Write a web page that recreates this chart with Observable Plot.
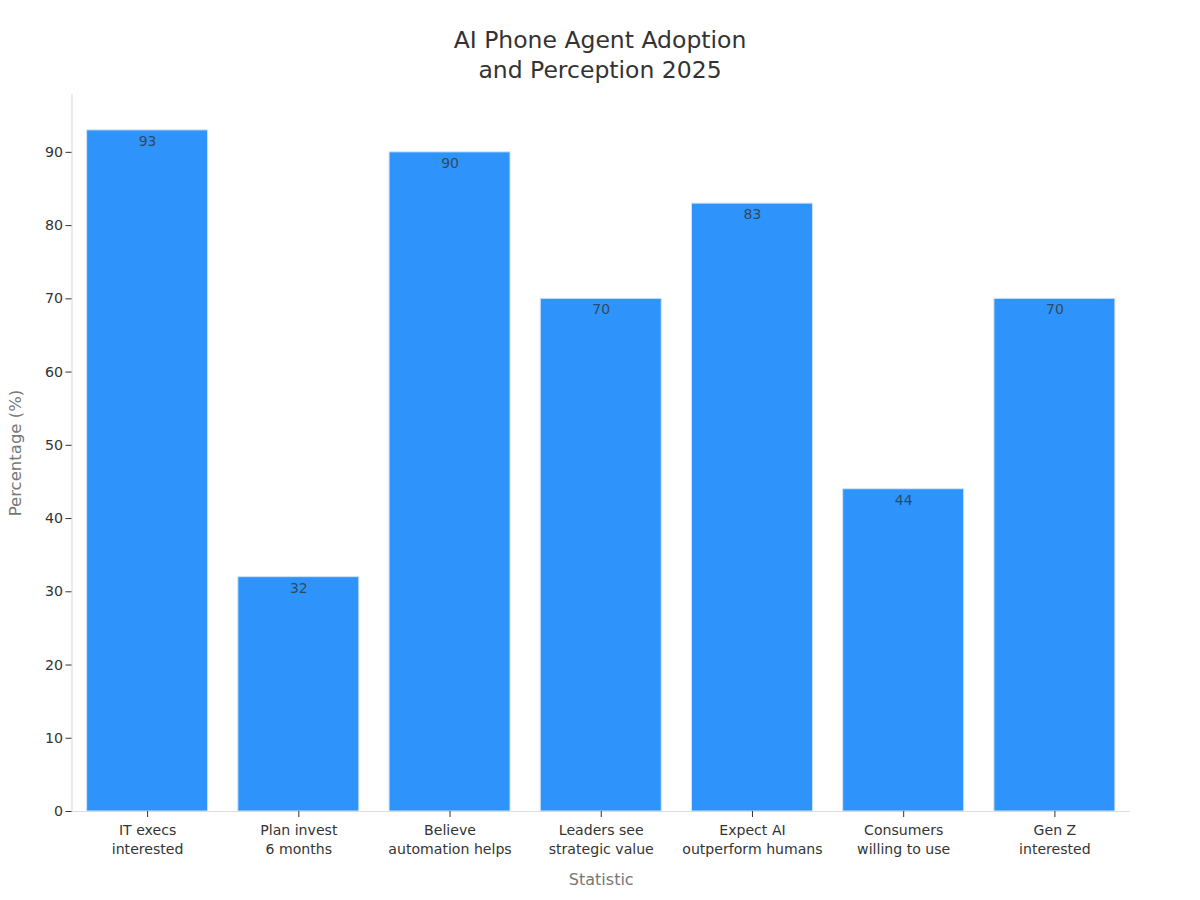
<!DOCTYPE html>
<html><head><meta charset="utf-8">
<script src="https://cdn.jsdelivr.net/npm/d3@7"></script>
<script src="https://cdn.jsdelivr.net/npm/@observablehq/plot@0.6"></script>
<style>html,body{margin:0;background:#fff}
#t{font:23.5px "DejaVu Sans";color:#333;text-align:center;line-height:30px;position:absolute;left:0;top:25px;width:1200px}
svg{position:absolute;left:0;top:0}</style></head>
<body><div id="t">AI Phone Agent Adoption<br>and Perception 2025</div><div id="c"></div>
<script>
const categories=["IT execs\ninterested","Plan invest\n6 months","Believe\nautomation helps","Leaders see\nstrategic value","Expect AI\noutperform humans","Consumers\nwilling to use","Gen Z\ninterested"];
const values=[93,32,90,70,83,44,70];
const yTicks=[0,10,20,30,40,50,60,70,80,90];
const rows=categories.map((c,i)=>({c,v:values[i]}));
const plot=Plot.plot({width:1200,height:900,marginLeft:71.5,marginRight:70,marginTop:94,marginBottom:89,
style:{fontFamily:"DejaVu Sans",background:"transparent"},
x:{domain:categories,paddingInner:0.2,paddingOuter:0.1,round:false,label:null},
y:{domain:[0,97.9],label:null},
marks:[
Plot.barY(rows,{x:"c",y:"v",fill:"#2e93fa",stroke:"#cfe3f7",strokeWidth:1}),
Plot.text(rows,{x:"c",y:"v",text:d=>String(d.v),dy:11,fontSize:14,fill:"#333",fillOpacity:0.8}),
Plot.ruleY([0],{stroke:"#ddd",strokeWidth:1.2}),
Plot.frame({anchor:"left",stroke:"#ddd",strokeWidth:1.2}),
Plot.axisY({ticks:yTicks,fontSize:14.2,tickSize:6,tickPadding:3,color:"#333",label:null}),
Plot.axisX({fontSize:14.1,tickSize:6,tickPadding:4,color:"#333",lineHeight:1.36,label:null}),
Plot.text(["Percentage (%)"],{frameAnchor:"left",textAnchor:"middle",rotate:-90,dx:-56,fontSize:16.5,fill:"#777"}),
Plot.text(["Statistic"],{frameAnchor:"bottom",dy:73,fontSize:16,fill:"#777"})
]});
document.getElementById("c").appendChild(plot);
</script></body></html>
